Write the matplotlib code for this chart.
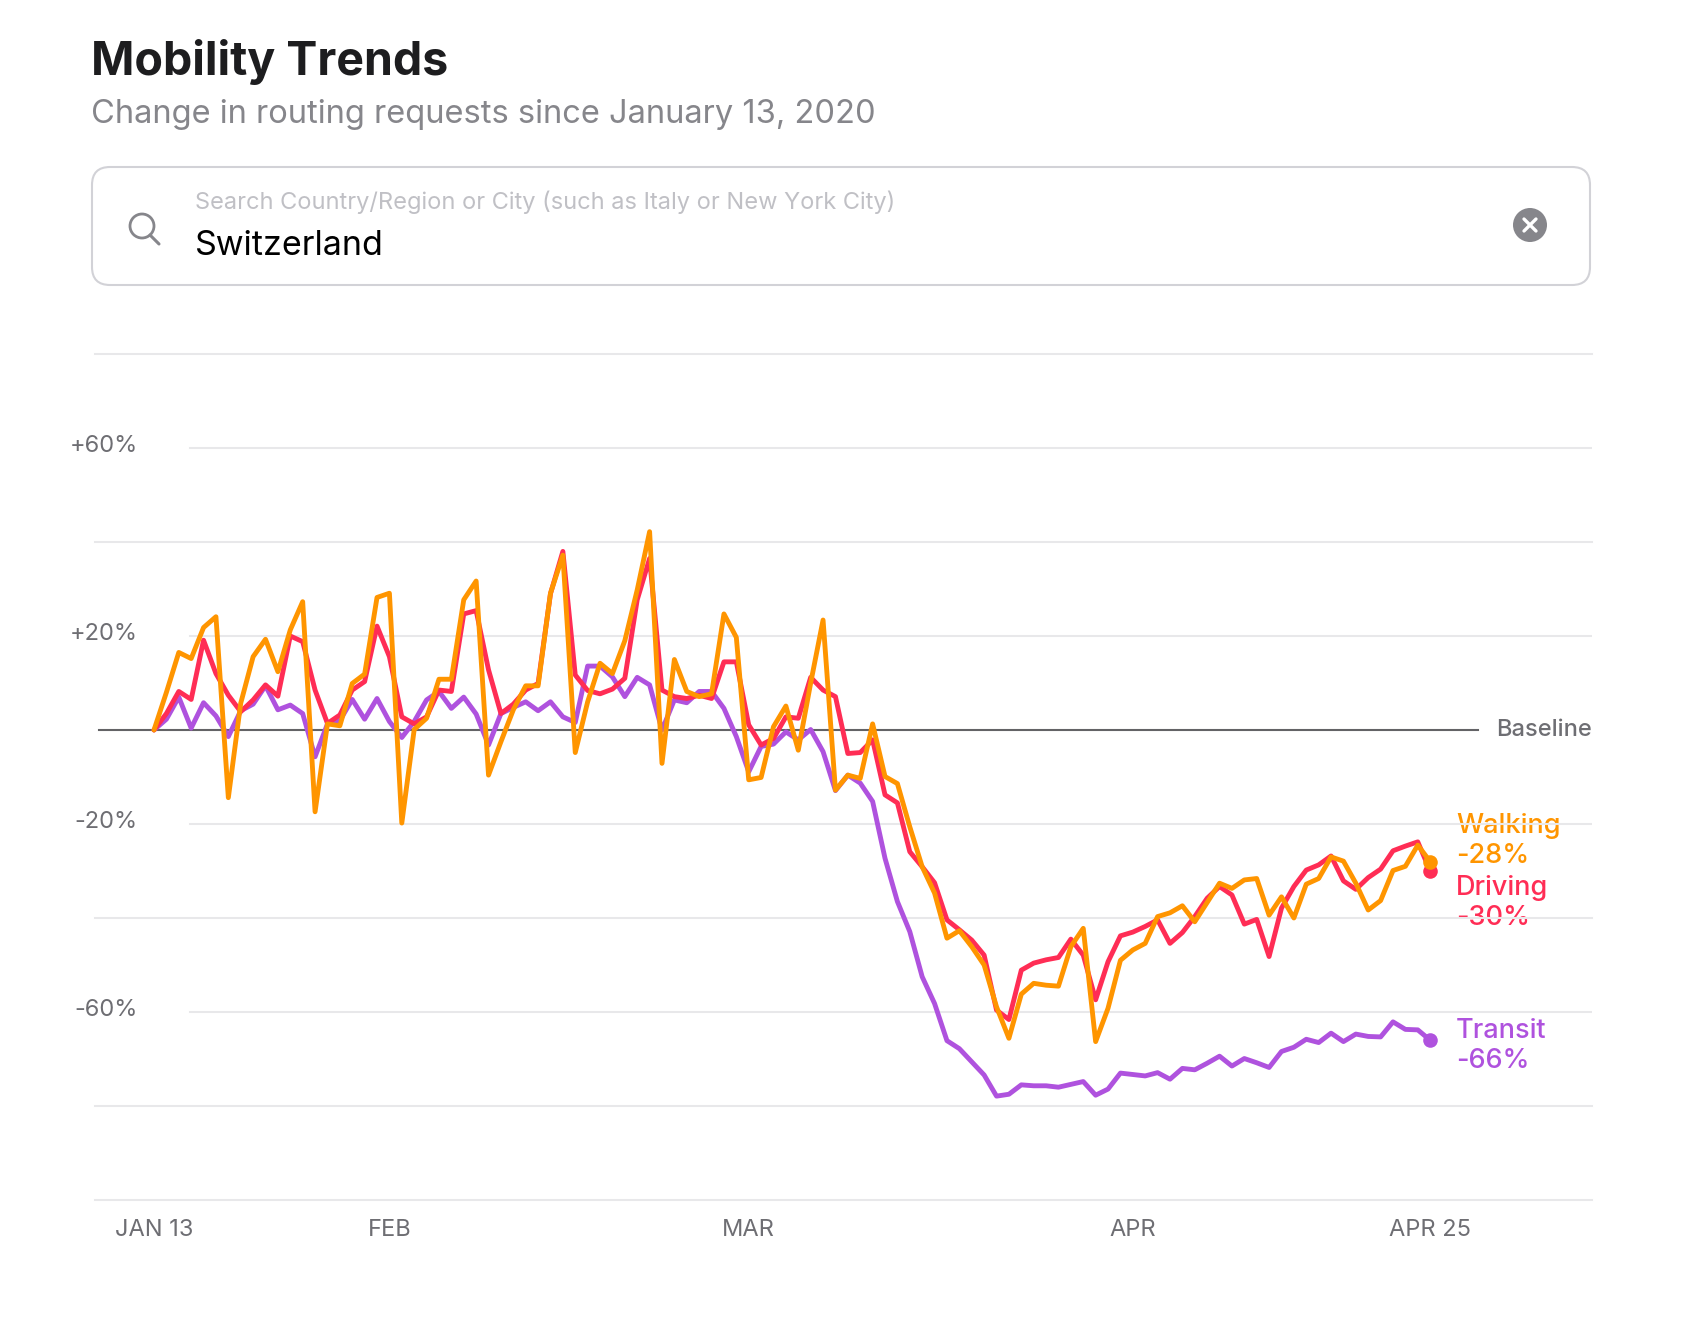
import matplotlib
matplotlib.use('Agg')
import matplotlib.pyplot as plt
from matplotlib.patches import FancyBboxPatch, Circle

plt.rcParams['font.family'] = ['Inter', 'DejaVu Sans']

# values, one per day from Jan 13 to Apr 25
walking = [0, 8, 16.5, 15.2, 21.8, 24.1, -14.4, 5.7, 15.6, 19.3, 12.4, 21.3, 27.3, -17.4, 1.3, 0.9, 9.9, 11.9, 28.2, 29.1,
           -19.8, 0.1, 2.5, 10.8, 10.8, 27.7, 31.7, -9.6, -2.5, 4.3, 9.4, 9.4, 29.1, 37.2, -4.8, 6, 14.2, 12, 19, 29.8,
           42.2, -7.1, 15, 8.2, 7.1, 7.7, 24.7, 19.7, -10.6, -10.1, 0.7, 5.1, -4.3, 10, 23.4, -12.8, -9.6, -10.3, 1.3, -9.9,
           -11.4, -20.6, -29.1, -34.7, -44.3, -42.7, -46.1, -50, -58.9, -65.6, -56.2, -53.9, -54.3, -54.5, -46.1, -42.2, -66.3, -59.2, -49, -46.8,
           -45.4, -39.7, -38.9, -37.4, -40.8, -36.7, -32.6, -33.7, -31.9, -31.6, -39.4, -35.5, -40, -32.8, -31.6, -27,
           -27.9, -32.6, -38.3, -36.3, -29.9, -29, -24.5, -28]
driving = [0, 3.5, 8.2, 6.5, 19.1, 12, 7.4, 3.9, 6.4, 9.6, 7.2, 20, 18.8, 8.5, 1.4, 3.2, 8.5, 10.3, 22.1, 15.6,
           2.8, 1.3, 2.8, 8.5, 8.2, 24.7, 25.4, 12.8, 3.5, 5.5, 8.5, 9.9, 29, 38, 11.7, 8.4, 7.7, 8.7, 11, 27.7,
           36.5, 8.5, 7.1, 6.7, 7.4, 6.7, 14.5, 14.5, 1.1, -3.2, -1.8, 2.8, 2.5, 11.2, 8.5, 7.1, -5, -4.8, -2.1, -13.8,
           -15.5, -25.9, -29.1, -32.5, -40.4, -42.5, -44.7, -47.9, -59.6, -61.6, -51.1, -49.6, -48.9, -48.4, -44.5, -47.9, -57.4, -49.3, -43.8, -43,
           -41.8, -40.4, -45.4, -43.1, -39.7, -35.8, -33.3, -35.1, -41.3, -40.3, -48.2, -37.9, -33.3, -29.8, -28.7, -26.8,
           -32.1, -33.9, -31.4, -29.6, -25.7, -24.7, -23.8, -30]
transit = [0, 2.3, 7, 0.4, 5.8, 3, -1.4, 4.1, 5.5, 9.4, 4.3, 5.3, 3.5, -5.7, 1.3, 2, 6.5, 2.3, 6.7, 1.8,
           -1.6, 1.8, 6.4, 8.2, 4.6, 7, 3.4, -3.2, 3.5, 4.8, 6, 4.1, 6, 2.8, 1.6, 13.6, 13.6, 11.3, 7.1, 11.2,
           9.6, 0, 6.4, 5.8, 8.2, 8.2, 4.6, -1.4, -8.9, -3.5, -3, -0.4, -2.1, 0.1, -4.6, -12.9, -9.6, -11.3, -15.2, -27.3,
           -36.5, -42.9, -52.5, -58.2, -66.1, -67.8, -70.6, -73.4, -77.9, -77.5, -75.5, -75.7, -75.7, -76, -75.4, -74.8, -77.7, -76.4, -73, -73.3,
           -73.6, -72.9, -74.3, -72, -72.3, -70.9, -69.4, -71.5, -69.9, -70.8, -71.8, -68.4, -67.5, -65.8, -66.5, -64.5,
           -66.3, -64.7, -65.2, -65.3, -62.1, -63.7, -63.8, -66]
days = list(range(len(walking)))

month_days = [0, 19, 48, 79, 103]
month_labels = ['JAN 13', 'FEB', 'MAR', 'APR', 'APR 25']
grid_levels = [80, 40, 0, -40, -80, -100]
label_levels = [60, 20, -20, -60]
level_labels = ['+60%', '+20%', '-20%', '-60%']

series_names = ['Transit', 'Driving', 'Walking']
series_values = [transit, driving, walking]
series_colors = ['#af52de', '#ff2d55', '#ff9500']
end_labels = ['-66%', '-30%', '-28%']
label_tops = [1031, 888, 826]

W, H = 1694, 1322
fig = plt.figure(figsize=(W / 100, H / 100), dpi=100, facecolor='white')

# page furniture, in pixel coordinates
ui = fig.add_axes([0, 0, 1, 1])
ui.set_xlim(0, W)
ui.set_ylim(H, 0)
ui.axis('off')

ui.text(91, 62, 'Mobility Trends', fontsize=33.5, fontweight='bold', color='#1d1d1f', va='center')
ui.text(91, 115, 'Change in routing requests since January 13, 2020', fontsize=23.5, color='#86868b', va='center')

box = FancyBboxPatch((110, 185), 1462, 82, boxstyle='round,pad=0,rounding_size=1', fc='white', ec='none')
box = FancyBboxPatch((92, 167), 1498, 118, boxstyle='round,pad=0,rounding_size=18', fc='white', ec='#d2d2d7', lw=1.5)
ui.add_patch(box)
ui.text(195, 202, 'Search Country/Region or City (such as Italy or New York City)', fontsize=17, color='#c0c0c5', va='center')
ui.text(195, 246, 'Switzerland', fontsize=24.5, color='black', va='center')

ui.add_patch(Circle((142, 226), 12, fc='none', ec='#86868b', lw=2))
ui.plot([150, 159], [235, 244], color='#86868b', lw=2.2, solid_capstyle='round')
ui.add_patch(Circle((1530, 225), 17, fc='#86868b', ec='none'))
ui.plot([1524, 1536], [219, 231], color='white', lw=2.4, solid_capstyle='round')
ui.plot([1524, 1536], [231, 219], color='white', lw=2.4, solid_capstyle='round')

# the chart: +80 sits at y=354 and -100 at y=1200, day 0 at x=154, 12.39 px per day
left, right = 95, 1592
ax = fig.add_axes([left / W, 1 - 1200 / H, (right - left) / W, (1200 - 354) / H])
ax.patch.set_alpha(0)
ax.set_xlim((left - 154) / 12.39, (right - 154) / 12.39)
ax.set_ylim(-100, 80)
for s in ax.spines.values():
    s.set_visible(False)
ax.set_yticks([])
ax.set_xticks([])

for lev in grid_levels:
    if lev != 0:
        ax.axhline(lev, color='#e8e8ea', lw=1.5, zorder=1, clip_on=False)
for lev, lab in zip(label_levels, level_labels):
    ax.axhline(lev, xmin=(190 - left) / (right - left), color='#e8e8ea', lw=1.5, zorder=1)
    ax.text(-0.5 - 0.8, lev + 0.5, lab, fontsize=17, color='#6e6e73', ha='right', va='center')
ax.axhline(0, xmin=(99 - left) / (right - left), xmax=(1478 - left) / (right - left), color='#636366', lw=1.5, zorder=2)
ax.text(1.0, 0, 'Baseline', transform=ax.get_yaxis_transform(), fontsize=17, fontweight='medium', color='#6e6e73', ha='right', va='center')

for d, lab in zip(month_days, month_labels):
    ax.text(d, -104, lab, fontsize=17, color='#6e6e73', ha='center', va='top')

for name, vals, col, end, top in zip(series_names, series_values, series_colors, end_labels, label_tops):
    ax.plot(days, vals, color=col, lw=3.5, solid_joinstyle='round', solid_capstyle='round', zorder=3)
    ax.plot(days[-1], vals[-1], 'o', color=col, ms=10.5, mew=0, zorder=4)
    ui.text(1456, top, name, fontsize=19.5, fontweight='medium', color=col, va='center', zorder=5)
    ui.text(1456, top + 30, end, fontsize=19.5, fontweight='medium', color=col, va='center', zorder=5)

fig.savefig('out.png', dpi=100)
